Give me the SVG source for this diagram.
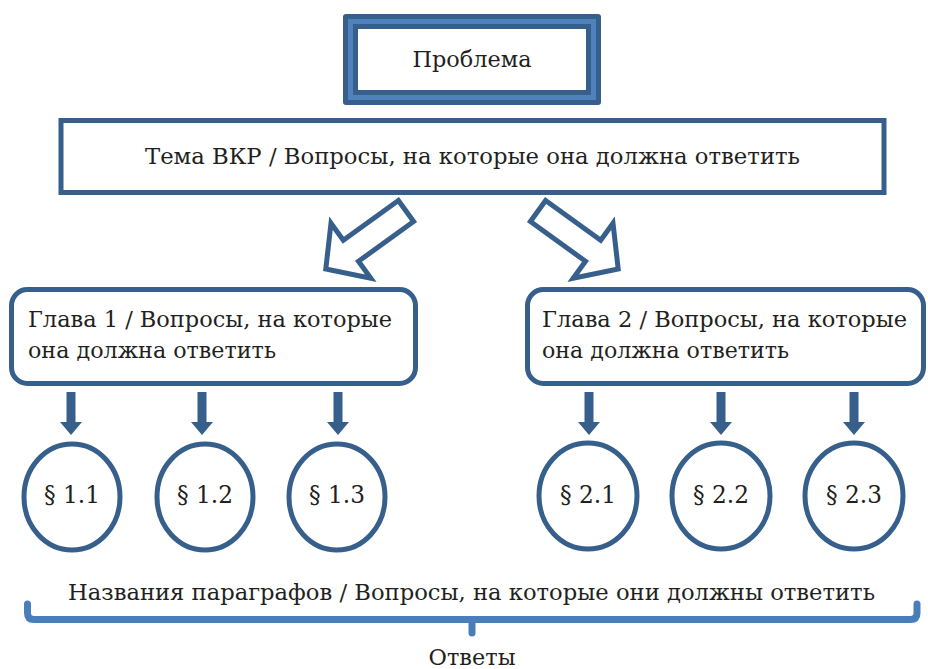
<svg xmlns="http://www.w3.org/2000/svg" xmlns:xlink="http://www.w3.org/1999/xlink" width="928" height="669" viewBox="0 0 928 669">
  <style>
    text { font-family: "DejaVu Serif", "Liberation Serif", serif; fill: #231f20; }
    .box { fill: #ffffff; stroke: #365f8b; stroke-width: 5; }
    .circ { fill: #ffffff; stroke: #365f8b; stroke-width: 5; }
    .big { fill: #ffffff; stroke: #365f8b; stroke-width: 5; stroke-linejoin: miter; }
    .brace { fill: none; stroke: #4a7ebb; stroke-width: 7; stroke-linecap: round; stroke-linejoin: round; }
  </style>
  <defs>
    <path id="down" d="M-4.5,392 H4.5 V422 H11 L0,435 L-11,422 H-4.5 Z" fill="#365f8b"/>
    <polygon id="bigArrow" class="big" points="398.4,200.5 343.3,240.3 331,223.3 325.8,268.9 370.8,278.3 358.5,261.3 413.6,221.5"/>
  </defs>

  <g id="problem">
    <rect x="343" y="14" width="258" height="91" rx="3" fill="#365f8b"/>
    <rect x="348" y="19" width="248" height="81" fill="#4f81bd"/>
    <rect x="353" y="24" width="238" height="71" fill="#365f8b"/>
    <rect x="358" y="29" width="228" height="61" fill="#ffffff"/>
    <text x="472" y="67" font-size="23" text-anchor="middle" textLength="119" lengthAdjust="spacingAndGlyphs">Проблема</text>
  </g>

  <g id="theme">
    <rect class="box" x="61" y="120.5" width="823" height="72"/>
    <text x="472.5" y="164" font-size="23" text-anchor="middle" textLength="655" lengthAdjust="spacingAndGlyphs">Тема ВКР / Вопросы, на которые она должна ответить</text>
  </g>

  <g id="connectors">
    <use xlink:href="#bigArrow"/>
    <use xlink:href="#bigArrow" transform="translate(944,0) scale(-1,1)"/>
    <use xlink:href="#down" x="71"/>
    <use xlink:href="#down" x="202"/>
    <use xlink:href="#down" x="338"/>
    <use xlink:href="#down" x="589"/>
    <use xlink:href="#down" x="721"/>
    <use xlink:href="#down" x="854"/>
  </g>

  <g id="chapter1">
    <rect class="box" x="11.5" y="289.5" width="404" height="94" rx="16"/>
    <text x="28" y="327" font-size="23" textLength="364" lengthAdjust="spacingAndGlyphs">Глава 1 / Вопросы, на которые</text>
    <text x="28" y="358" font-size="23" textLength="248" lengthAdjust="spacingAndGlyphs">она должна ответить</text>
  </g>

  <g id="chapter2">
    <rect class="box" x="527.5" y="289.5" width="396" height="94" rx="16"/>
    <text x="542" y="327" font-size="23" textLength="365" lengthAdjust="spacingAndGlyphs">Глава 2 / Вопросы, на которые</text>
    <text x="542" y="358" font-size="23" textLength="247" lengthAdjust="spacingAndGlyphs">она должна ответить</text>
  </g>

  <g id="p11"><ellipse class="circ" cx="72" cy="497" rx="48" ry="53"/><text x="72" y="503" font-size="25" text-anchor="middle" textLength="56" lengthAdjust="spacingAndGlyphs">§ 1.1</text></g>
  <g id="p12"><ellipse class="circ" cx="205" cy="497" rx="48" ry="53"/><text x="205" y="503" font-size="25" text-anchor="middle" textLength="56" lengthAdjust="spacingAndGlyphs">§ 1.2</text></g>
  <g id="p13"><ellipse class="circ" cx="337" cy="497" rx="48" ry="53"/><text x="337" y="503" font-size="25" text-anchor="middle" textLength="56" lengthAdjust="spacingAndGlyphs">§ 1.3</text></g>
  <g id="p21"><ellipse class="circ" cx="588" cy="496" rx="49" ry="53"/><text x="588" y="503" font-size="25" text-anchor="middle" textLength="56" lengthAdjust="spacingAndGlyphs">§ 2.1</text></g>
  <g id="p22"><ellipse class="circ" cx="721" cy="496" rx="49" ry="53"/><text x="721" y="503" font-size="25" text-anchor="middle" textLength="56" lengthAdjust="spacingAndGlyphs">§ 2.2</text></g>
  <g id="p23"><ellipse class="circ" cx="854" cy="496" rx="49" ry="53"/><text x="854" y="503" font-size="25" text-anchor="middle" textLength="56" lengthAdjust="spacingAndGlyphs">§ 2.3</text></g>

  <g id="summary">
    <text x="68" y="600" font-size="23" textLength="807" lengthAdjust="spacingAndGlyphs">Названия параграфов / Вопросы, на которые они должны ответить</text>
    <path class="brace" d="M27.5,604 V613 Q27.5,619.5 34,619.5 H910.5 Q917,619.5 917,613 V604"/>
    <path class="brace" d="M472,620 V633"/>
  </g>

  <g id="answers">
    <text x="472" y="665" font-size="23" text-anchor="middle" textLength="87" lengthAdjust="spacingAndGlyphs">Ответы</text>
  </g>
</svg>
